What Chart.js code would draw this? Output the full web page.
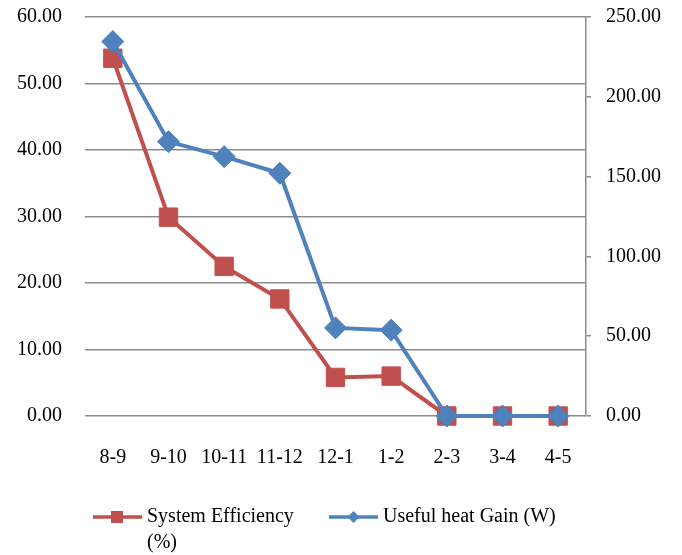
<!DOCTYPE html>
<html>
<head>
<meta charset="utf-8">
<script src="https://cdn.jsdelivr.net/npm/chart.js@4.4.1/dist/chart.umd.min.js"></script>
<style>
  html, body { margin: 0; padding: 0; background: #fff; }
  canvas { display: block; }
</style>
</head>
<body>
<canvas id="chart" width="682" height="555"></canvas>
<script>
const categories = ['8-9', '9-10', '10-11', '11-12', '12-1', '1-2', '2-3', '3-4', '4-5'];
const efficiency = [53.8, 29.9, 22.5, 17.6, 5.8, 6.0, 0, 0, 0];
const heatGain = [234.6, 171.9, 162.5, 152.1, 55.2, 53.8, 0, 0, 0];
const leftTicks = [0, 10, 20, 30, 40, 50, 60];
const rightTicks = [0, 50, 100, 150, 200, 250];

const RED = '#C0504D';
const BLUE = '#4F81BD';
const GRID = '#8c8c8c';
const FONT = { family: '"Liberation Serif", "Times New Roman", serif', size: 20 };

// legend drawn by hand so the first label can wrap like the original
const legendPlugin = {
  id: 'wrapLegend',
  afterDraw(chart) {
    const c = chart.ctx;
    c.save();
    c.font = FONT.size + 'px ' + FONT.family;
    c.fillStyle = '#000';
    c.textBaseline = 'middle';
    c.lineWidth = 3.5;

    // System Efficiency
    c.strokeStyle = RED;
    c.beginPath(); c.moveTo(93, 517); c.lineTo(142, 517); c.stroke();
    c.fillStyle = RED;
    c.fillRect(111, 511, 12, 12);
    c.fillStyle = '#000';
    c.fillText('System Efficiency', 147, 517);
    c.fillText('(%)', 147, 543);

    // Useful heat Gain
    c.strokeStyle = BLUE;
    c.beginPath(); c.moveTo(329, 517); c.lineTo(378, 517); c.stroke();
    c.fillStyle = BLUE;
    c.beginPath();
    c.moveTo(353.5, 511); c.lineTo(359.5, 517); c.lineTo(353.5, 523); c.lineTo(347.5, 517);
    c.closePath(); c.fill();
    c.fillStyle = '#000';
    c.fillText('Useful heat Gain (W)', 383, 517);
    c.restore();
  }
};

new Chart(document.getElementById('chart').getContext('2d'), {
  type: 'line',
  data: {
    labels: categories,
    datasets: [
      {
        label: 'System Efficiency (%)',
        data: efficiency,
        yAxisID: 'y',
        borderColor: RED,
        backgroundColor: RED,
        borderWidth: 4,
        pointStyle: 'rect',
        pointRadius: 13,
        pointBorderWidth: 1,
        tension: 0,
        clip: false,
        order: 2
      },
      {
        label: 'Useful heat Gain (W)',
        data: heatGain,
        yAxisID: 'y1',
        borderColor: BLUE,
        backgroundColor: BLUE,
        borderWidth: 4,
        pointStyle: 'rectRot',
        pointRadius: 11,
        pointBorderWidth: 1,
        tension: 0,
        clip: false,
        order: 1
      }
    ]
  },
  options: {
    responsive: false,
    animation: false,
    layout: { padding: { top: 17, bottom: 79, left: 0, right: 0 } },
    plugins: {
      legend: { display: false },
      tooltip: { enabled: false }
    },
    scales: {
      x: {
        offset: true,
        grid: { display: false },
        border: { display: false },
        ticks: { color: '#000', font: FONT, padding: 22, maxRotation: 0 },
        afterFit(s) { s.height = 60; }
      },
      y: {
        position: 'left',
        min: 0,
        max: 60,
        afterBuildTicks(s) { s.ticks = leftTicks.map(v => ({ value: v })); },
        grid: { color: GRID, lineWidth: 1.5, drawTicks: false },
        border: { display: false },
        ticks: {
          color: '#000', font: FONT, padding: 23,
          callback: v => v.toFixed(2)
        },
        afterFit(s) { s.width = 85; s.paddingTop = 0; s.paddingBottom = 0; }
      },
      y1: {
        position: 'right',
        min: 0,
        max: 250,
        afterBuildTicks(s) { s.ticks = rightTicks.map(v => ({ value: v })); },
        grid: { color: GRID, lineWidth: 1.5, drawOnChartArea: false, drawTicks: true, tickLength: 5 },
        border: { display: true, color: GRID, width: 1.5 },
        ticks: {
          color: '#000', font: FONT, padding: 15,
          callback: v => v.toFixed(2)
        },
        afterFit(s) { s.width = 96; s.paddingTop = 0; s.paddingBottom = 0; }
      }
    }
  },
  plugins: [legendPlugin]
});
</script>
</body>
</html>
